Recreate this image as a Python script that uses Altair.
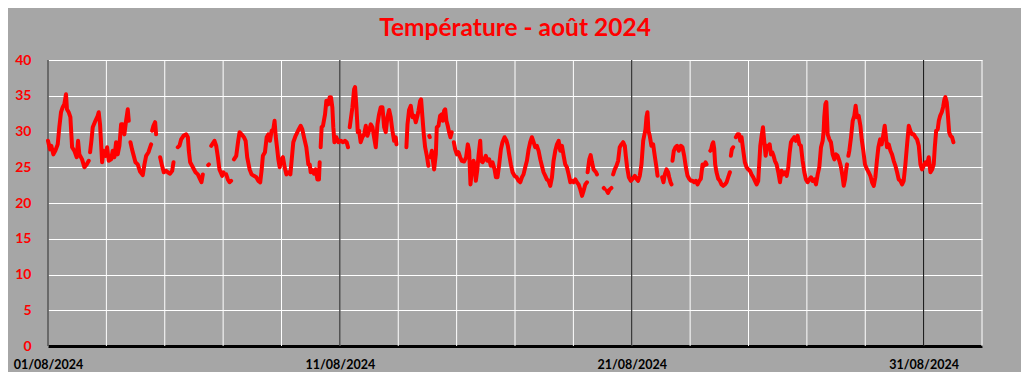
import altair as alt
import pandas as pd

TITLE = "Température - août 2024"
START = "2024-08-01T00:00:00"
FONT = "Lato"

# hours since 01/08/2024 00:00 ; None in temps marks a gap in the recording
hours = [
    0, 1.6, 2.7, 4.4, 6.0, 8.0, 9.3, 10.7, 12.1, 13.4, 14.8, 15.6, 17.0, 18.4, 19.8, 21.7, 23.6, 24.7, 25.8, 28.0, 29.9, 31.8, 33.5,
    34.0,
    34.6, 35.7, 36.8, 39.0, 40.9, 41.7, 42.8, 44.5, 45.6, 47.2, 48.6, 49.9, 51.9, 53.2, 54.6, 56.0, 57.3, 58.7, 60.1, 61.5, 62.8, 64.2, 65.6, 66.4,
    67.1,
    67.8, 69.1, 70.2, 71.9, 73.8, 75.7, 77.9, 79.3, 80.7, 82.6, 84.0, 84.8,
    85.2,
    85.6, 86.7, 88.1, 88.9,
    90.5,
    92.2, 93.8, 95.2, 97.1, 98.5, 100.4, 102.1, 103.2,
    105.0,
    106.7, 108.1, 109.5, 111.4, 113.6, 115.0, 115.8, 116.9, 119.1, 121.3, 123.2, 125.1, 126.2, 127.3,
    129.5,
    131.7, 132.3,
    133.2,
    134.2, 136.9, 138.3, 139.7, 141.0, 143.2, 144.3,
    145.4,
    146.5, 147.9, 149.3, 150.6,
    151.8,
    152.9, 154.8, 156.4, 157.5, 159.2, 161.1, 162.5, 163.8, 165.8, 167.4,
    169.3, 171.3, 172.9, 174.5, 175.6, 176.7, 178.4, 179.8, 181.1, 182.5,
    183.9, 185.3, 186.3, 187.2, 188.3, 189.4, 190.5, 191.8, 193.2, 194.6,
    196.0, 197.6, 199.3, 200.3, 201.7, 203.6, 205.6, 207.8, 209.1, 210.5,
    212.4, 214.1, 215.2, 216.0, 217.4, 218.7, 220.1, 221.5, 222.8, 223.4,
    223.8,
    224.2, 225.0, 226.1, 227.8, 228.9, 230.5, 231.6, 232.7, 233.8, 234.6, 235.5, 237.1, 238.8, 240.7, 242.6, 244.2, 245.6, 246.7,
    247.4,
    248.1, 249.2, 250.3, 251.7, 252.5, 253.6, 254.7, 255.8, 257.1, 258.5,
    259.9, 261.3, 262.6, 264.0, 265.4, 266.8, 268.1, 269.5, 270.9, 272.2,
    273.6, 275.0, 276.4, 277.7, 279.1, 280.5, 281.8, 283.2, 284.6, 285.9, 286.5,
    290.0,
    294.7, 295.6, 296.9, 298.3, 299.7, 301.1, 302.4, 303.8, 304.6, 306.0, 306.8, 307.9, 309.0, 310.1, 311.5, 312.8,
    313.2,
    313.5, 313.9,
    314.2,
    314.5, 315.6, 316.4, 317.5, 318.9, 319.7, 321.1, 322.4, 323.8, 324.6, 325.7, 326.6, 327.6, 328.7, 329.8, 330.9, 332.0,
    332.8,
    333.7, 334.8, 336.2, 337.5, 338.9, 340.3, 342.2, 343.8, 345.2, 346.3,
    347.4, 348.5, 349.9, 350.7, 351.8, 352.9, 354.0, 355.4, 356.2, 357.3,
    358.7, 360.0, 361.4, 362.8, 364.1, 365.5, 367.2, 368.3, 369.6, 371.0,
    372.4, 373.7, 375.4, 377.0, 378.1, 379.2, 380.6, 382.0, 383.6, 385.3,
    386.9, 388.3, 389.7, 391.0, 392.4, 393.8, 395.2, 396.5, 397.9, 399.3,
    400.6, 402.0, 403.4, 404.8, 406.1, 407.5, 408.9, 410.2, 411.6, 413.0,
    414.4, 415.7, 417.1, 418.5, 419.9, 421.2, 422.6, 424.0, 425.3, 426.7,
    428.1, 429.5, 430.8, 432.2, 433.6, 434.9, 436.3, 437.7, 439.1, 440.4,
    441.8, 443.2,
    443.5,
    443.7, 445.1, 446.2, 447.3, 448.6, 450.6, 451.4,
    454.0,
    457.0, 457.5,
    458.5,
    459.5, 460.5, 461.9, 463.3,
    464.0,
    464.7, 466.0, 467.4, 468.8, 470.1, 471.5, 472.9, 474.3, 475.1, 476.2,
    477.6, 479.2, 480.8, 482.5, 483.9, 485.2, 486.6, 488.0, 489.4, 490.2,
    491.3, 492.1, 492.9, 493.7, 494.8, 496.2, 497.6, 498.9, 500.3, 501.2,
    503.0,
    505.0, 506.1, 507.2, 508.6, 509.9, 510.8, 511.9, 512.7,
    513.1,
    513.5, 514.6, 516.0, 517.3, 518.7, 520.4, 521.7, 523.1, 524.5, 525.9, 527.2,
    528.6, 530.0, 531.3, 532.7, 534.1, 535.5, 536.8, 538.2, 539.3, 540.7, 541.5,
    543.0,
    544.6, 545.1, 546.2, 547.0, 547.8, 548.6, 549.7, 551.1, 552.5, 553.8, 555.2, 556.6, 558.0, 559.3, 560.7,
    561.1,
    561.5, 562.3, 563.4,
    564.5,
    565.6, 566.9, 568.3, 569.2, 570.3, 571.7, 573.0, 574.4, 575.8, 577.2,
    578.5, 579.9, 581.3, 582.7, 584.0, 584.8, 585.7, 586.8, 587.9, 589.0,
    590.1, 591.2, 592.3, 593.4, 594.5, 595.5, 596.6, 597.7, 599.1, 600.5,
    601.9, 603.2, 604.6, 606.0, 607.4, 608.7, 609.8, 610.9, 612.3, 613.6,
    615.0, 616.4, 617.8, 619.1, 620.5, 621.9, 623.2, 624.6, 626.0, 627.4,
    628.7, 630.1, 631.5, 632.9, 634.2, 635.6, 637.0, 637.8, 638.3, 639.2,
    640.0, 640.5, 641.1, 642.5, 643.8, 645.2, 646.6, 648.0, 649.3, 650.7,
    652.1, 653.4, 654.3, 655.4, 656.2, 657.0,
    657.5,
    658.1, 658.9, 660.3, 661.7, 663.0, 664.1, 665.2, 666.6, 668.0, 669.1,
    670.4, 671.8, 673.5, 674.8, 676.2, 677.6, 679.0, 680.3, 681.7, 682.8,
    684.2, 685.5, 686.9, 688.0, 688.8, 689.9, 691.3, 692.7, 694.0, 695.4,
    696.8, 698.2, 699.5, 700.9, 702.3, 703.6, 705.0, 706.4, 707.8, 709.1,
    710.5, 711.9, 713.3, 714.6, 716.0, 717.4, 718.7, 720.1, 721.5, 722.9,
    724.2, 725.6, 727.0, 728.3, 729.2, 730.3, 731.6, 732.5, 733.6, 734.9,
    736.0, 737.1, 737.9, 739.0, 739.9, 741.0, 742.1, 743.4, 744.5,
]

temps = [
    28.7, 27.5, 28.0, 26.8, 27.3, 28.2, 30.6, 32.7, 33.4, 33.8, 35.2, 33.1, 32.7, 32.0, 27.8, 27.3, 26.4, 28.7, 26.8, 26.1, 25.0, 25.4, 25.9,
    None,
    27.1, 28.7, 30.6, 31.5, 32.2, 32.7, 31.0, 25.7, 27.3, 26.6, 27.8, 25.9, 26.1, 27.3, 26.4, 28.5, 26.8, 28.0, 31.0, 31.0, 29.6, 31.5, 33.1, 31.5,
    None,
    28.5, 27.5, 26.8, 25.7, 25.4, 24.4, 23.9, 25.4, 26.6, 27.1, 27.8, 28.2,
    None,
    30.1, 30.8, 31.3, 29.6,
    None,
    26.4, 25.2, 24.3, 24.5, 24.3, 24.1, 24.5, 25.7,
    None,
    27.8, 28.0, 28.9, 29.4, 29.6, 29.2, 27.3, 25.7, 25.0, 24.3, 24.0, 23.3, 22.9, 24.0,
    None,
    25.3, 25.4,
    None,
    28.0, 28.7, 28.0, 26.4, 24.7, 23.8, 24.3,
    None,
    24.0, 23.3, 22.9, 23.1,
    None,
    26.1, 26.6, 28.7, 29.9, 29.6, 29.2, 28.7, 26.4, 24.7, 24.0,
    23.8, 23.6, 23.1, 22.9, 24.5, 26.6, 27.1, 29.2, 29.6, 28.7,
    30.1, 30.3, 31.5, 29.4, 27.8, 26.1, 25.0, 26.1, 26.4, 25.0,
    24.0, 24.3, 24.0, 25.9, 28.5, 29.4, 30.1, 30.8, 30.3, 29.2,
    27.8, 25.4, 25.4, 24.3, 24.6, 24.1, 24.7, 23.3, 23.3, 25.7,
    None,
    27.8, 30.6, 30.8, 32.4, 34.3, 33.8, 34.8, 34.8, 33.4, 30.6, 28.5, 29.2, 28.5, 28.7, 28.5, 28.7, 28.5, 27.8,
    None,
    30.6, 32.0, 33.4, 35.9, 36.2, 33.4, 29.9, 30.1, 28.5, 29.2,
    29.6, 30.8, 29.4, 30.1, 31.0, 30.6, 29.2, 27.8, 31.0, 32.4,
    33.4, 33.4, 30.6, 29.9, 32.0, 33.0, 32.0, 30.1, 28.7, 29.2, 28.2,
    None,
    27.8, 31.0, 33.0, 33.6, 32.0, 32.2, 31.3, 32.2, 32.9, 34.3, 34.5, 32.0, 29.6, 27.8, 26.6, 25.2,
    None,
    29.4, 29.2,
    None,
    26.4, 27.3, 26.1, 24.7, 26.8, 30.6, 30.8, 32.2, 32.4, 31.5, 32.9, 33.1, 31.5, 30.8, 29.9, 29.2, 29.9,
    None,
    28.5, 27.5, 26.8, 27.1, 26.4, 25.9, 25.8, 26.4, 28.2, 27.3,
    22.6, 24.5, 25.9, 25.4, 23.1, 24.5, 26.6, 28.7, 25.9, 25.7,
    26.1, 26.6, 25.9, 26.1, 25.2, 25.7, 24.7, 23.6, 23.6, 25.4,
    27.5, 28.5, 29.2, 28.7, 28.0, 26.8, 25.4, 24.3, 23.8, 23.6,
    23.1, 22.9, 23.6, 24.0, 25.0, 25.9, 27.5, 28.5, 29.2, 28.5,
    27.8, 28.0, 27.3, 26.1, 25.2, 24.3, 23.8, 23.3, 23.1, 22.4,
    23.6, 25.9, 27.3, 28.2, 28.7, 27.3, 28.0, 26.6, 25.4, 25.0,
    24.0, 22.9, 23.1, 22.9, 23.3, 22.9, 22.6, 21.9, 21.0, 21.7,
    22.6, 22.9,
    None,
    24.3, 26.1, 26.7, 25.7, 24.7, 24.3, 24.0,
    None,
    22.1, 22.0,
    None,
    21.7, 21.4, 21.9, 22.1,
    None,
    24.0, 24.7, 25.2, 25.9, 27.8, 28.2, 28.5, 28.0, 26.6, 25.0,
    23.6, 23.1, 23.4, 23.8, 23.4, 23.1, 23.8, 25.4, 28.7, 29.4,
    30.3, 32.0, 32.7, 30.1, 29.4, 28.0, 28.2, 26.6, 25.0, 23.8,
    None,
    23.6, 22.9, 24.0, 24.7, 24.3, 23.6, 22.9, 22.6,
    None,
    25.9, 27.3, 27.8, 28.0, 27.3, 28.0, 27.8, 26.6, 25.0, 23.8, 23.4,
    23.1, 23.1, 22.9, 23.1, 22.6, 23.1, 23.4, 25.4, 25.2, 25.7, 25.4,
    None,
    27.3, 27.4, 28.2, 28.5, 27.6, 25.4, 24.3, 23.4, 23.1, 22.6, 22.4, 22.6, 22.9, 23.6, 24.3,
    None,
    26.6, 27.5, 27.8,
    None,
    29.2, 29.6, 29.6, 28.7, 29.2, 27.3, 25.7, 25.0, 24.7, 24.5,
    24.0, 23.6, 23.1, 22.6, 23.1, 25.4, 28.0, 29.4, 30.6, 28.5,
    26.6, 28.0, 27.8, 28.2, 26.8, 27.1, 26.6, 25.9, 25.4, 24.3,
    22.9, 24.5, 24.0, 24.3, 23.8, 25.0, 27.0, 28.5, 28.9, 29.2,
    28.7, 29.4, 28.2, 28.0, 25.9, 24.3, 23.3, 22.9, 23.3, 23.6,
    23.1, 23.3, 22.6, 24.0, 25.0, 27.8, 28.7, 30.1, 32.0, 33.8,
    34.1, 32.0, 29.6, 28.9, 28.5, 26.8, 26.1, 26.8, 26.6, 25.9,
    25.0, 23.6, 22.4, 23.3, 24.5, 25.4,
    None,
    26.6, 27.3, 29.2, 31.5, 32.2, 33.6, 32.0, 32.2, 30.8, 28.9,
    27.3, 25.4, 24.7, 24.3, 23.8, 22.9, 22.4, 23.6, 26.1, 27.8,
    28.9, 28.2, 29.6, 30.8, 29.6, 27.8, 28.2, 27.3, 26.8, 25.9,
    25.2, 24.3, 23.3, 23.1, 22.6, 23.1, 25.4, 28.2, 30.8, 30.1,
    29.6, 29.6, 29.2, 28.9, 28.0, 25.4, 24.7, 25.2, 25.7, 25.4,
    26.4, 24.3, 24.7, 25.4, 27.8, 30.1, 30.3, 31.5, 32.2, 32.7,
    33.4, 34.5, 34.8, 34.1, 32.4, 29.9, 29.4, 29.2, 28.5,
]

assert len(hours) == len(temps), (len(hours), len(temps))

# vertical gridlines every two days, darker lines every ten days (labelled)
grid_days = [
    "2024-08-01", "2024-08-03", "2024-08-05", "2024-08-07", "2024-08-09",
    "2024-08-11", "2024-08-13", "2024-08-15", "2024-08-17", "2024-08-19",
    "2024-08-21", "2024-08-23", "2024-08-25", "2024-08-27", "2024-08-29",
    "2024-08-31", "2024-09-02",
]
major_days = ["2024-08-01", "2024-08-11", "2024-08-21", "2024-08-31"]
y_ticks = [0, 5, 10, 15, 20, 25, 30, 35, 40]
y_domain = [0, 40]
x_domain = ["2024-08-01", "2024-09-02"]

t0 = pd.Timestamp(START)
times = [(t0 + pd.Timedelta(hours=h)).strftime("%Y-%m-%dT%H:%M:%S") for h in hours]
df = pd.DataFrame({"time": times, "temp": temps})
grid_df = pd.DataFrame({"time": [d + "T00:00:00" for d in grid_days]})
major_df = pd.DataFrame({"time": [d + "T00:00:00" for d in major_days]})


def dt(s):
    ts = pd.Timestamp(s)
    return alt.DateTime(year=ts.year, month=ts.month, date=ts.day)


xscale = alt.Scale(domain=[dt(d) for d in x_domain])

x_axis = alt.Axis(
    values=[dt(d) for d in major_days],
    format="%d/%m/%Y",
    title="",
    labelColor="black",
    labelFont=FONT,
    labelFontSize=12.5,
    labelFontWeight="bold",
    labelPadding=12,
    labelFlush=False,
    ticks=False,
    grid=False,
    domainColor="black",
    domainWidth=3,
)

y_axis = alt.Axis(
    values=y_ticks,
    title="",
    labelColor="#FF0000",
    labelFont=FONT,
    labelFontSize=14,
    labelFontWeight="bold",
    labelPadding=17,
    ticks=False,
    domain=False,
    grid=True,
    gridColor="white",
    gridWidth=1,
    gridOpacity=1,
)
yscale = alt.Scale(domain=y_domain, nice=False)

white_rules = alt.Chart(grid_df).mark_rule(color="white", strokeWidth=1).encode(
    x=alt.X("time:T", scale=xscale, axis=x_axis)
)
black_rules = alt.Chart(major_df).mark_rule(color="black", strokeWidth=1).encode(
    x=alt.X("time:T", scale=xscale, axis=x_axis)
)

line = alt.Chart(df).mark_line(
    color="#FF0000", strokeWidth=4, strokeJoin="round", strokeCap="round",
    invalid="break-paths-show-domains",
).encode(
    x=alt.X("time:T", scale=xscale, axis=x_axis),
    y=alt.Y("temp:Q", scale=yscale, axis=y_axis),
)

chart = alt.layer(white_rules, black_rules, line).properties(
    width=934,
    height=286,
    padding={"left": 40, "top": 52, "right": 39, "bottom": 26},
    autosize=alt.AutoSizeParams(type="none"),
    background="#A6A6A6",
    title=alt.TitleParams(
        text=TITLE,
        color="#FF0000",
        font=FONT,
        fontSize=24.5,
        fontWeight="bold",
        anchor="middle",
        frame="group",
        offset=12,
    ),
).configure_view(strokeWidth=0)

chart.save("out.html", embed_options={"renderer": "svg", "actions": False})
